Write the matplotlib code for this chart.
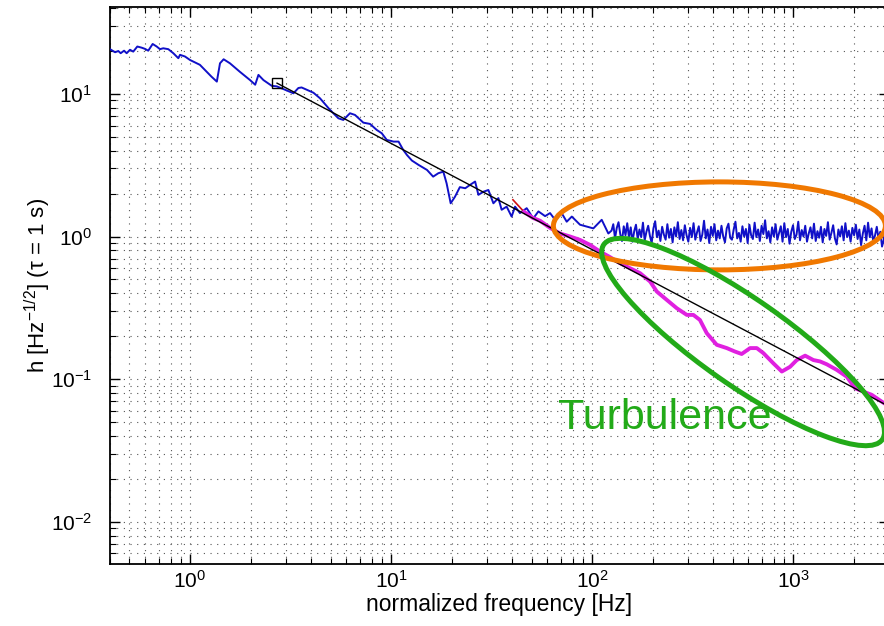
import numpy as np
import matplotlib
matplotlib.use('Agg')
import matplotlib.pyplot as plt
from matplotlib.patches import Ellipse
from matplotlib.transforms import ScaledTranslation

plt.rcParams['font.family'] = ['Liberation Sans', 'DejaVu Sans']
plt.rcParams['mathtext.fontset'] = 'custom'
plt.rcParams['mathtext.rm'] = 'Liberation Sans'
plt.rcParams['mathtext.it'] = 'Liberation Sans:italic'
plt.rcParams['mathtext.default'] = 'regular'

# blue trace, low frequency part (follows the power law)
blue_f = [0.40, 0.424, 0.44, 0.452, 0.47, 0.484, 0.503, 0.522, 0.547, 0.575,
          0.597, 0.62, 0.652, 0.683, 0.709, 0.736, 0.78, 0.826, 0.875, 0.892,
          0.944, 1.0, 1.08, 1.12, 1.21, 1.28, 1.36, 1.41, 1.47, 1.58,
          1.77, 1.99, 2.11, 2.19, 2.32, 2.55, 2.70, 2.97, 3.27, 3.46,
          3.59, 4.11, 4.43, 4.97, 5.47, 5.79, 6.25, 6.62, 7.28, 7.86,
          8.49, 8.99, 9.52, 10.3, 10.9, 11.5, 12.0, 12.7, 13.7, 15.1,
          16.2, 17.2, 18.2, 18.9, 19.8, 20.8, 22.0, 23.4, 24.7, 26.2,
          27.2, 28.8, 30.5, 32.3, 34.2, 35.5, 37.6, 39.8, 41.4, 43.8,
          47.3, 51.0, 54.1, 58.4, 61.8, 65.5, 70.6, 74.8, 79.3, 87.1,
          101.5, 111.7, 120.5]
blue_h = [20.6, 19.6, 20.0, 19.3, 20.1, 19.3, 20.4, 19.8, 21.5, 21.1,
          20.7, 20.1, 22.4, 21.5, 20.6, 20.9, 20.6, 19.3, 17.8, 18.8,
          18.3, 17.3, 16.4, 16.0, 14.3, 13.2, 12.2, 16.4, 17.5, 16.4,
          14.3, 12.5, 11.6, 13.6, 12.5, 11.4, 11.3, 10.7, 10.1, 11.0,
          11.1, 10.2, 9.33, 7.73, 6.75, 6.57, 7.32, 7.12, 6.29, 6.16,
          5.59, 5.30, 4.76, 4.63, 4.63, 4.05, 3.73, 3.41, 3.18, 2.93,
          2.63, 2.78, 2.85, 2.36, 1.71, 1.90, 2.22, 2.18, 2.30, 2.43,
          1.96, 2.06, 2.12, 1.71, 1.86, 1.54, 1.62, 1.38, 1.62, 1.46,
          1.58, 1.34, 1.50, 1.39, 1.46, 1.31, 1.46, 1.27, 1.38, 1.21,
          1.14, 1.31, 1.05]

# blue trace, flat white-noise floor (125 Hz .. 3 kHz)
floor_h = [1.10, 1.22, 0.97, 1.15, 1.26, 1.04, 0.93, 1.18, 1.02, 1.24,
           0.98, 1.16, 0.92, 1.09, 1.21, 0.96, 1.12, 0.99, 1.25, 0.94,
           1.08, 1.19, 1.01, 0.90, 1.14, 1.28, 0.99, 1.10, 0.93, 1.17,
           1.03, 0.95, 1.22, 0.98, 1.13, 0.91, 1.16, 1.00, 1.26, 0.96,
           1.11, 0.94, 1.20, 1.02, 0.92, 1.15, 0.99, 1.24, 0.95, 1.07,
           1.18, 0.93, 1.03, 1.29, 0.97, 1.12, 0.90, 1.17, 1.01, 1.22,
           0.94, 1.10, 0.97, 1.19, 1.00, 0.91, 1.14, 1.23, 0.98, 0.95,
           1.12, 1.27, 0.97, 1.06, 0.92, 1.18, 1.00, 1.13, 0.90, 1.21,
           1.02, 0.96, 1.25, 0.99, 1.12, 0.93, 1.19, 1.04, 1.30, 0.97,
           1.09, 0.91, 1.16, 1.00, 1.22, 0.95, 1.06, 1.18, 0.92, 1.24,
           0.99, 1.13, 0.89, 1.08, 1.20, 0.96, 1.03, 1.27, 0.94, 1.11,
           1.00, 1.19, 0.92, 1.05, 1.16, 0.97, 1.23, 0.93, 1.09, 0.98,
           1.17, 0.91, 1.13, 1.01, 1.26, 0.95, 1.06, 1.20, 0.97, 0.88,
           1.12, 1.00, 1.18, 0.94, 1.24, 0.99, 1.10, 0.92, 1.15, 1.02,
           1.21, 0.96, 1.12, 0.87, 1.05, 1.19, 0.94, 1.25, 0.99, 1.14,
           0.92, 1.02, 1.17, 0.96, 1.08, 0.85, 0.95, 1.20, 1.03, 1.13]
floor_f = np.geomspace(125, 3000, len(floor_h))

# magenta trace (turbulence-limited)
mag_f = [45.9, 50.8, 55.1, 61.8, 69.3, 77.7, 87.1, 97.7, 109.6, 123,
         137.8, 154.6, 173.4, 194.5, 210, 235.5, 264, 296, 319, 344,
         372, 417, 468, 514, 555, 611, 660, 712, 798, 879,
         966, 1043, 1148, 1262, 1362, 1471, 1650, 1849, 2033, 2238,
         2464, 2837, 3000]
mag_h = [1.49, 1.35, 1.29, 1.15, 1.05, 1.00, 0.947, 0.873, 0.784, 0.716,
         0.650, 0.599, 0.553, 0.483, 0.411, 0.359, 0.314, 0.282, 0.282, 0.260,
         0.210, 0.174, 0.165, 0.156, 0.150, 0.165, 0.165, 0.152, 0.129, 0.113,
         0.122, 0.136, 0.146, 0.136, 0.133, 0.127, 0.116, 0.104, 0.0863, 0.0817,
         0.0775, 0.0677, 0.065]

red_f = [40.4, 44.9]
red_h = [1.81, 1.54]

fit_f = [2.71, 3000]
fit_h = [11.9, 0.0643]

fig = plt.figure(figsize=(8.84, 6.26), dpi=100)
ax = fig.add_axes([110 / 884, 62 / 626, 779 / 884, 557 / 626])

ax.plot(np.concatenate([blue_f, floor_f]), np.concatenate([blue_h, floor_h]),
        color='#1010c8', lw=1.4, zorder=3)
ax.plot(mag_f, mag_h, color='#e020e0', lw=2.8, zorder=4)
ax.plot(red_f, red_h, color='#d01010', lw=1.2, zorder=4)
ax.plot(fit_f, fit_h, color='black', lw=1.0, zorder=5)
ax.plot([fit_f[0]], [fit_h[0]], 's', mfc='none', mec='black', ms=7, mew=1.0, zorder=6)

ax.set_xscale('log')
ax.set_yscale('log')
ax.set_xlim(0.4, 3000)
ax.set_ylim(0.00505, 40.7)

ax.grid(True, which='both', linestyle=(0, (1, 5)), color='#555555', lw=0.8)
ax.tick_params(which='both', direction='in', top=True, right=True, labelsize=15)
ax.tick_params(which='major', length=7, width=1.0)
ax.tick_params(which='minor', length=4, width=0.8)
ax.tick_params(axis='y', pad=13)
ax.tick_params(axis='x', pad=4)
for s in ax.spines.values():
    s.set_linewidth(1.3)

ax.set_xlabel('normalized frequency [Hz]', fontsize=16.5, labelpad=1)
ax.set_ylabel('h [Hz$^{-1/2}$] (τ = 1 s)', fontsize=16, labelpad=-2)

# annotation ellipses
def ellipse(cx, cy, w, h, angle, color):
    tr = fig.dpi_scale_trans + ScaledTranslation(cx, cy, ax.transData)
    e = Ellipse((0, 0), w, h, angle=angle, transform=tr, fill=False,
                edgecolor=color, lw=3.6, clip_on=False, zorder=7)
    ax.add_patch(e)

ellipse(430, 1.187, 3.32, 0.88, 0, '#f07800')
ellipse(564, 0.182, 3.40, 0.86, -35, '#22aa18')

ax.text(68, 0.0445, 'Turbulence', color='#22aa18', fontsize=31, zorder=8)

fig.savefig('out.png', dpi=100)
